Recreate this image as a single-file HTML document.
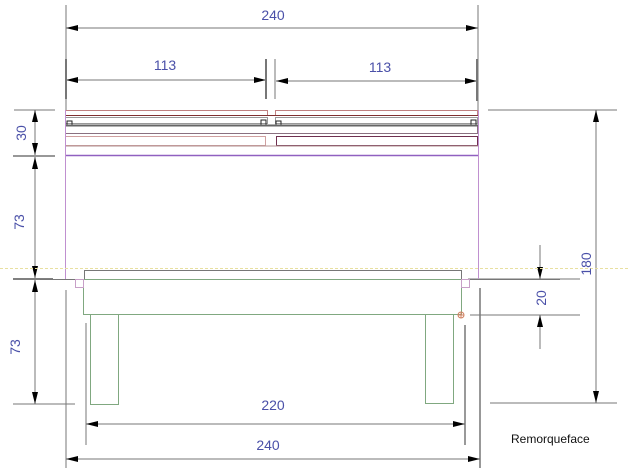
<!DOCTYPE html>
<html><head><style>body{margin:0;background:#fff}svg{display:block}</style></head><body>
<svg width="628" height="468" viewBox="0 0 628 468" xmlns="http://www.w3.org/2000/svg" font-family="Liberation Sans, sans-serif">
<defs>
<marker id="a" viewBox="0 0 12 6" refX="12" refY="3" markerWidth="12" markerHeight="6" orient="auto-start-reverse" markerUnits="userSpaceOnUse"><path d="M0,0L12,3L0,6z" fill="#000"/></marker>
</defs>
<g stroke="#777" stroke-width="1" fill="none">
<!-- top dims -->
<line x1="66" y1="5" x2="66" y2="110"/><line x1="478" y1="5" x2="478" y2="110"/>
<line x1="66" y1="28" x2="478" y2="28" marker-start="url(#a)" marker-end="url(#a)"/>
<line x1="66" y1="80" x2="266" y2="80" marker-start="url(#a)" marker-end="url(#a)"/>
<line x1="276" y1="81" x2="477" y2="81" marker-start="url(#a)" marker-end="url(#a)"/>
<line x1="266" y1="59" x2="266" y2="99" stroke-width="2"/><line x1="275" y1="59" x2="275" y2="99"/>
<line x1="66" y1="59" x2="66" y2="99" stroke-width="2"/><line x1="477" y1="59" x2="477" y2="101" stroke-width="2"/>
<!-- left dims -->
<line x1="14" y1="110" x2="55" y2="110"/><line x1="13" y1="156" x2="55" y2="156" stroke-width="1.5"/>
<line x1="13" y1="279" x2="53" y2="279" stroke="#000"/><line x1="13" y1="404" x2="75" y2="404"/>
<line x1="35" y1="110" x2="35" y2="155" marker-start="url(#a)" marker-end="url(#a)"/>
<line x1="35" y1="157" x2="35" y2="278" marker-start="url(#a)" marker-end="url(#a)"/>
<line x1="35" y1="280" x2="35" y2="404" marker-start="url(#a)" marker-end="url(#a)"/>
<!-- right dims -->
<line x1="488" y1="110" x2="617" y2="110"/><line x1="490" y1="403" x2="617" y2="403"/>
<line x1="596" y1="110" x2="596" y2="403" marker-start="url(#a)" marker-end="url(#a)"/>
<line x1="468" y1="279" x2="580" y2="279"/><line x1="470" y1="315" x2="580" y2="315"/>
<line x1="540" y1="245" x2="540" y2="279" marker-end="url(#a)"/>
<line x1="540" y1="349" x2="540" y2="315" marker-end="url(#a)"/>
<!-- bottom dims -->
<line x1="86" y1="323" x2="86" y2="445"/><line x1="465" y1="325" x2="465" y2="445" stroke-width="1.5"/>
<line x1="66" y1="290" x2="66" y2="468"/><line x1="480" y1="288" x2="480" y2="468" stroke-width="1.5"/>
<line x1="86" y1="424" x2="465" y2="424" marker-start="url(#a)" marker-end="url(#a)"/>
<line x1="66" y1="459" x2="480" y2="459" marker-start="url(#a)" marker-end="url(#a)"/>
</g>
<!-- top structure -->
<g fill="none" stroke-width="1">
<rect x="65.5" y="110.5" width="202" height="5" stroke="#c08080"/><rect x="275.5" y="110.5" width="202" height="5" stroke="#c08080"/>
<line x1="65" y1="115.5" x2="478" y2="115.5" stroke="#803030"/>
<rect x="65.5" y="117.5" width="202" height="6" stroke="#999"/><rect x="275.5" y="117.5" width="202" height="6" stroke="#999"/>
<rect x="67" y="121" width="5" height="4" stroke="#222"/><rect x="261" y="120" width="5" height="5" stroke="#222"/><rect x="276" y="121" width="5" height="4" stroke="#222"/><rect x="471" y="120" width="5" height="5" stroke="#222"/>
<rect x="65.5" y="125.5" width="412" height="8" stroke="#8a7080"/>
<line x1="65" y1="125.5" x2="478" y2="125.5" stroke="#666" stroke-width="2"/>
<rect x="65.5" y="136.5" width="200" height="9" stroke="#d0a0a0"/><rect x="276.5" y="136.5" width="201" height="9" stroke="#703050"/>
<line x1="65" y1="146" x2="478" y2="146" stroke="#b09090"/>
<line x1="65" y1="155.5" x2="478" y2="155.5" stroke="#9060c0" stroke-width="1.5"/>
<line x1="65.5" y1="110" x2="65.5" y2="280" stroke="#c090d0"/><line x1="478.5" y1="110" x2="478.5" y2="280" stroke="#c090d0"/>
<line x1="0" y1="268.5" x2="628" y2="268.5" stroke="#e8e0a0" stroke-dasharray="3,2"/>
<rect x="84.5" y="270.5" width="377" height="9" stroke="#777"/>
<line x1="40" y1="279.5" x2="560" y2="279.5" stroke="#777"/>
<rect x="83.5" y="279.5" width="378" height="35" stroke="#80a880"/>
<rect x="75.5" y="279.5" width="8" height="8" stroke="#c8a0c8"/><rect x="461.5" y="279.5" width="8" height="8" stroke="#c8a0c8"/>
<rect x="90.5" y="314.5" width="28" height="90" stroke="#80a880"/>
<rect x="425.5" y="314.5" width="28" height="89" stroke="#80a880"/>
<circle cx="461" cy="315" r="3" stroke="#d08060"/>
<line x1="458" y1="315" x2="464" y2="315" stroke="#d08060"/><line x1="461" y1="312" x2="461" y2="318" stroke="#d08060"/>
</g>
<g fill="#4a50a8" font-size="14">
<text x="273" y="20" text-anchor="middle">240</text>
<text x="165" y="70" text-anchor="middle">113</text>
<text x="380" y="72" text-anchor="middle">113</text>
<text x="273" y="410" text-anchor="middle">220</text>
<text x="268" y="450" text-anchor="middle">240</text>
<text transform="translate(26,133) rotate(-90)" text-anchor="middle">30</text>
<text transform="translate(24,222) rotate(-90)" text-anchor="middle">73</text>
<text transform="translate(20,347) rotate(-90)" text-anchor="middle">73</text>
<text transform="translate(591,264) rotate(-90)" text-anchor="middle">180</text>
<text transform="translate(546,298) rotate(-90)" text-anchor="middle">20</text>
</g>
<text x="511" y="443" font-size="12" fill="#111">Remorqueface</text>
</svg>
</body></html>
